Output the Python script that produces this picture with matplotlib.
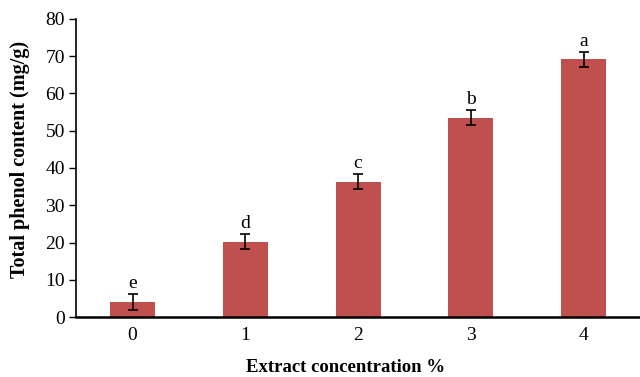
import numpy as np
import matplotlib.pyplot as plt

plt.rcParams['font.family'] = ['Liberation Serif', 'DejaVu Serif']

# data
concentrations = ["0", "1", "2", "3", "4"]
phenol = [4.0, 20.2, 36.3, 53.5, 69.2]
errors = [2.2, 2.0, 2.0, 2.0, 2.0]
letters = ["e", "d", "c", "b", "a"]

fig = plt.figure(figsize=(6.4, 3.77), dpi=100)
ax = fig.add_axes([0.119, 0.159, 0.881, 0.791])

x = np.arange(len(concentrations))
ax.bar(x, phenol, width=0.4, color="#C0504D", yerr=errors,
       error_kw=dict(ecolor="black", elinewidth=1.2, capsize=3.5, capthick=1.2))

for xi, v, e, lab in zip(x, phenol, errors, letters):
    ax.text(xi, v + e + 0.5, lab, ha="center", va="bottom", fontsize=14)

ax.set_xlim(-0.5, len(concentrations) - 0.5)
ax.set_ylim(0, 80)
ax.set_yticks(range(0, 81, 10))
ax.set_xticks(x)
ax.set_xticklabels(concentrations)
ax.tick_params(axis="y", direction="out", length=5, width=1, labelsize=14, pad=3)
ax.tick_params(axis="x", length=0, labelsize=14, pad=7)

for side in ["top", "right"]:
    ax.spines[side].set_visible(False)
ax.spines["left"].set_linewidth(1.2)
ax.spines["bottom"].set_linewidth(1.8)

ax.set_ylabel("Total phenol content (mg/g)", fontsize=14.5, fontweight="bold",
              va="center", ha="center")
ax.yaxis.set_label_coords(-0.099, 0.53)
ax.set_xlabel("Extract concentration %", fontsize=13.5, fontweight="bold",
              va="center", ha="center")
ax.xaxis.set_label_coords(0.478, -0.17)

fig.savefig("out.png", dpi=100)
